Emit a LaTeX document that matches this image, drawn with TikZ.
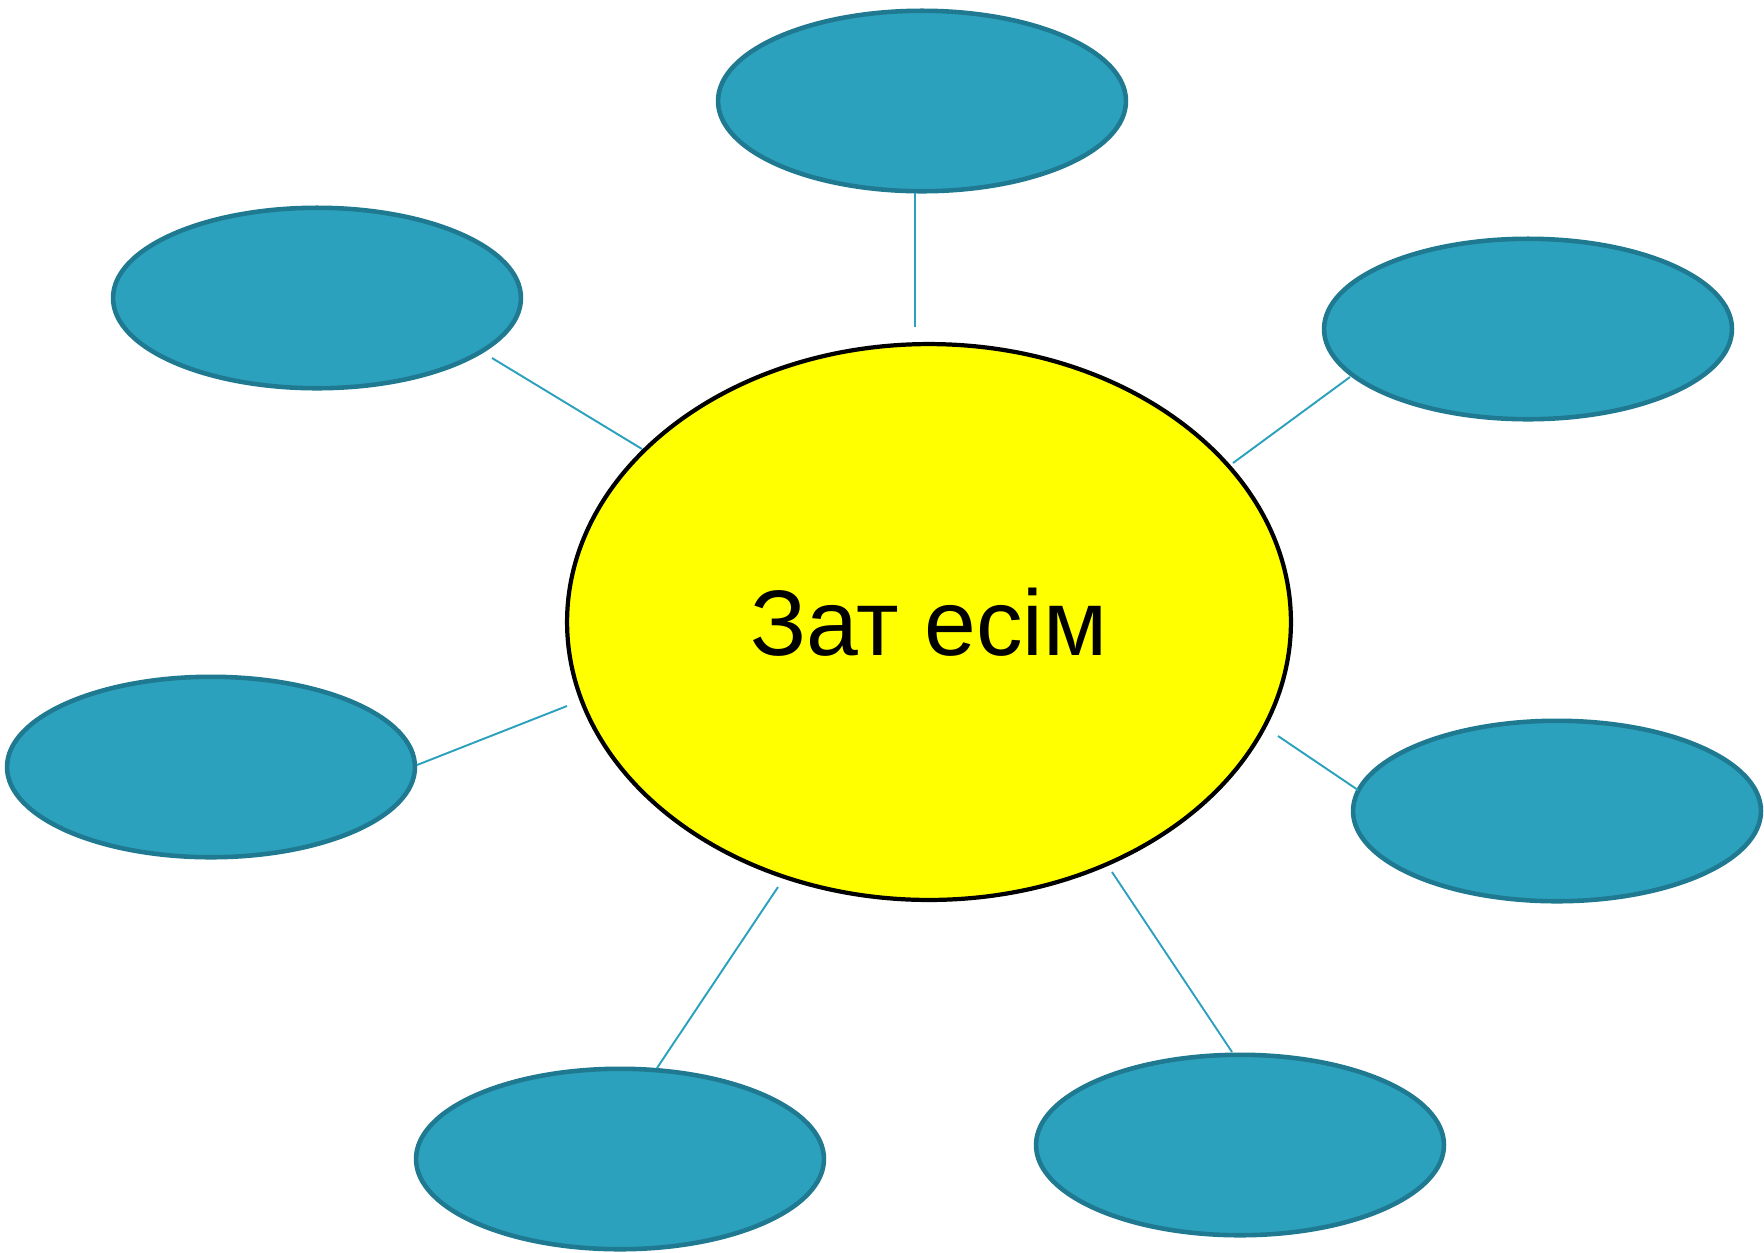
\documentclass[tikz,border=0pt]{standalone}
\usepackage{fontspec}
\setmainfont{Liberation Sans}
\usetikzlibrary{shapes.geometric}
\definecolor{bubblefill}{HTML}{2CA1BE}
\definecolor{bubbleedge}{HTML}{1F7A91}
\definecolor{spoke}{HTML}{2CA1BE}
\definecolor{coreyellow}{RGB}{255,255,0}
\begin{document}
\begin{tikzpicture}[x=0.02cm,y=-0.02cm,
bubble/.style={ellipse, draw=bubbleedge, fill=bubblefill, line width=2.6pt,
  minimum width=8.16cm, minimum height=3.61cm, inner sep=0pt},
core/.style={ellipse, draw=black, fill=coreyellow, line width=2.4pt,
  minimum width=14.48cm, minimum height=11.12cm, inner sep=0pt,
  font=\fontsize{53}{58}\selectfont},
spokeline/.style={draw=spoke, line width=1.1pt}
]
\useasboundingbox (0,0) rectangle (1764,1252);

% center and bubbles
\node[core] (noun) at (929,622) {Зат есім};
\path
  (922,101)  node[bubble] (top) {}
  (317,298)  node[bubble] (upleft) {}
  (1528,329) node[bubble] (upright) {}
  (211,767)  node[bubble] (left) {}
  (1557,811) node[bubble] (right) {}
  (620,1159) node[bubble] (downleft) {}
  (1240,1145) node[bubble] (downright) {};

% spoke ends
\coordinate (s1a) at (915,193);  \coordinate (s1b) at (915,327);
\coordinate (s2a) at (492,358);  \coordinate (s2b) at (642,449);
\coordinate (s3a) at (1350,377); \coordinate (s3b) at (1233,463);
\coordinate (s4a) at (417,765);  \coordinate (s4b) at (567,706);
\coordinate (s5a) at (1278,736); \coordinate (s5b) at (1358,790);
\coordinate (s6a) at (778,887);  \coordinate (s6b) at (657,1068);
\coordinate (s7a) at (1112,872); \coordinate (s7b) at (1232,1052);

\foreach \A/\B in {s1a/s1b,s2a/s2b,s3a/s3b,s4a/s4b,s5a/s5b,s6a/s6b,s7a/s7b}
  \draw[spokeline] (\A) -- (\B);

\end{tikzpicture}
\end{document}
